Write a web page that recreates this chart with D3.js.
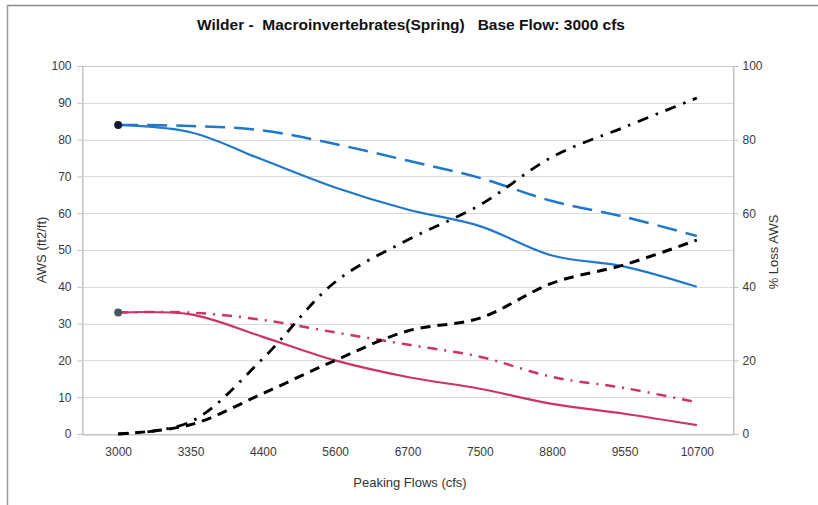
<!DOCTYPE html>
<html><head><meta charset="utf-8">
<script src="https://cdn.jsdelivr.net/npm/d3@7"></script>
<style>body{margin:0;background:#fff;} svg{display:block;font-family:"Liberation Sans",Arial,sans-serif;}</style>
</head><body><svg id="c" width="818" height="505"></svg>
<script>
const categories = ["3000","3350","4400","5600","6700","7500","8800","9550","10700"];
const awsAlt1 = [84, 82, 74.5, 67, 61, 56.5, 48.5, 45.5, 40];
const awsAlt2 = [84, 83.7, 82.5, 78.8, 74.3, 69.6, 63.3, 59, 53.8];
const awsAlt3 = [33, 32.5, 26.4, 20, 15.5, 12.3, 8.2, 5.5, 2.4];
const awsAlt4 = [33, 33, 31, 27.6, 24.3, 21, 15.5, 12.5, 8.6];
const lossA = [0, 2.5, 11, 20, 28, 31.5, 41, 46, 52.7];
const lossB = [0, 3.3, 20.5, 41.3, 52.7, 62.2, 75.3, 83.4, 91.3];
const leftTicks = [0,10,20,30,40,50,60,70,80,90,100];
const rightTicks = [0,20,40,60,80,100];

const svg = d3.select("#c");
const L = 82, R = 733, T = 66, B = 434;
const x = d3.scalePoint().domain(categories).range([L, R]).padding(0.5);
const yL = d3.scaleLinear().domain([0,100]).range([B, T]);
const yR = d3.scaleLinear().domain([0,100]).range([B, T]);

svg.append("line").attr("x1",7).attr("x2",818).attr("y1",5.5).attr("y2",5.5).attr("stroke","#8a8a8a").attr("stroke-width",1.5);
svg.append("line").attr("x1",7.5).attr("x2",7.5).attr("y1",5).attr("y2",505).attr("stroke","#9a9a9a").attr("stroke-width",1.5);

svg.append("g").selectAll("line").data(leftTicks).join("line")
  .attr("x1",L).attr("x2",R).attr("y1",d=>Math.round(yL(d))+0.5).attr("y2",d=>Math.round(yL(d))+0.5)
  .attr("stroke","#d9d9d9").attr("stroke-width",1);
svg.append("rect").attr("x",L+0.5).attr("y",T+0.5).attr("width",R-L).attr("height",B-T)
  .attr("fill","none").attr("stroke","#c8c8c8");

const gL = svg.append("g").attr("transform",`translate(${L+0.5},0)`)
  .call(d3.axisLeft(yL).tickValues(leftTicks).tickSize(5).tickPadding(6));
const gR = svg.append("g").attr("transform",`translate(${R+0.5},0)`)
  .call(d3.axisRight(yR).tickValues(rightTicks).tickSize(5).tickPadding(4));
const gB = svg.append("g").attr("transform",`translate(0,${B+0.5})`)
  .call(d3.axisBottom(x).tickSize(0).tickPadding(13));
[gL,gR,gB].forEach(g=>{
  g.select(".domain").attr("stroke","#c0c0c0");
  g.selectAll(".tick line").attr("stroke","#c0c0c0");
  g.selectAll("text").attr("fill","#3a3a3a").style("font-size","12px").style("font-family","'Liberation Sans',Arial,sans-serif");
});

const line = (ys, ysc) => d3.line().x((d,i)=>x(categories[i])).y(d=>ysc(d)).curve(d3.curveCatmullRom.alpha(0.5))(ys);
const blue = "#1f78cc", red = "#cc3366";
svg.append("path").attr("d",line(awsAlt2,yL)).attr("fill","none").attr("stroke",blue).attr("stroke-width",2.5).attr("stroke-dasharray","20,9");
svg.append("path").attr("d",line(awsAlt1,yL)).attr("fill","none").attr("stroke",blue).attr("stroke-width",2.2);
svg.append("path").attr("d",line(awsAlt4,yL)).attr("fill","none").attr("stroke",red).attr("stroke-width",2.5).attr("stroke-dasharray","10,7,2,7");
svg.append("path").attr("d",line(awsAlt3,yL)).attr("fill","none").attr("stroke",red).attr("stroke-width",2.2);
svg.append("path").attr("d",line(lossA,yR)).attr("fill","none").attr("stroke","#000").attr("stroke-width",3).attr("stroke-dasharray","10,7");
svg.append("path").attr("d",line(lossB,yR)).attr("fill","none").attr("stroke","#000").attr("stroke-width",2.8).attr("stroke-dasharray","11,8,2.5,8");

svg.append("circle").attr("cx",x(categories[0])).attr("cy",yL(awsAlt1[0])).attr("r",4).attr("fill","#0d1b33");
svg.append("circle").attr("cx",x(categories[0])).attr("cy",yL(awsAlt3[0])).attr("r",4).attr("fill","#4a5560");

svg.append("text").attr("x",411).attr("y",30).attr("text-anchor","middle")
  .style("font-size","15.5px").style("font-weight","bold").style("white-space","pre").attr("fill","#111")
  .text("Wilder -  Macroinvertebrates(Spring)   Base Flow: 3000 cfs");
svg.append("text").attr("x",410).attr("y",487).attr("text-anchor","middle")
  .style("font-size","13px").attr("fill","#333").text("Peaking Flows (cfs)");
svg.append("text").attr("transform","translate(46,250) rotate(-90)").attr("text-anchor","middle")
  .style("font-size","13px").attr("fill","#333").text("AWS (ft2/ft)");
svg.append("text").attr("transform","translate(778,252) rotate(-90)").attr("text-anchor","middle")
  .style("font-size","13px").attr("fill","#333").text("% Loss AWS");
</script></body></html>
